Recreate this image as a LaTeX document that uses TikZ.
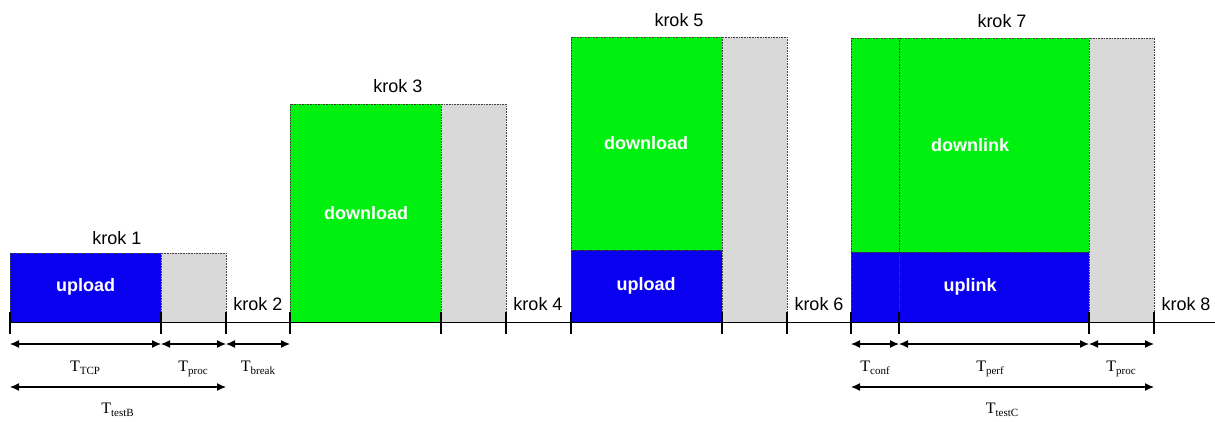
\documentclass[tikz,border=0pt]{standalone}
\usepackage{fontspec}
\setmainfont{Liberation Serif}
\setsansfont{Liberation Sans}
\usetikzlibrary{arrows.meta}
\definecolor{grn}{RGB}{0,240,16}
\definecolor{blu}{RGB}{10,0,240}
\definecolor{gry}{RGB}{217,217,217}
\newcommand{\Tlab}[1]{T\raisebox{-0.22em}{\fontsize{11}{12}\selectfont #1}}
\begin{document}
\begin{tikzpicture}[x=1pt,y=-1pt,
  box/.style={draw=black!75, dash pattern=on 0.8pt off 0.8pt, line width=0.6pt},
  krok/.style={font=\sffamily\fontsize{18}{20}\selectfont, inner sep=0},
  inlab/.style={font=\sffamily\bfseries\fontsize{18}{20}\selectfont, text=white, inner sep=0},
  tlab/.style={font=\fontsize{16}{18}\selectfont, inner sep=0, anchor=base},
  dim/.style={{Latex[length=9pt,width=8pt]}-{Latex[length=9pt,width=8pt]}, line width=1.2pt},
  tickline/.style={line width=1.4pt}]
\useasboundingbox (0,0) rectangle (1215,421);
% krok 1
\path[box, fill=blu] (10,253) rectangle (161,322.5);
\path[box, fill=gry] (161,253) rectangle (226,322.5);
% krok 3
\path[box, fill=grn] (290,104) rectangle (441,322.5);
\path[box, fill=gry] (441,104) rectangle (506,322.5);
% krok 5
\path[box, fill=grn] (571,37) rectangle (722,250);
\path[box, fill=blu] (571,250) rectangle (722,322.5);
\path[box, fill=gry] (722,37) rectangle (787,322.5);
% krok 7
\path[box, fill=grn] (851,38) rectangle (1089,252);
\path[box, fill=blu] (851,252) rectangle (1089,322.5);
\path[box] (899,38) -- (899,322.5);
\path[box, fill=gry] (1089,38) rectangle (1154,322.5);
% baseline and ticks
\draw[tickline] (10,322.5) -- (1215,322.5);
\foreach \x in {10,161,226,290,441,506,571,722,787,851,899,1089,1154}
  \draw[tickline] (\x,312) -- (\x,334);
% labels
\node[krok] (k1) at (117,238) {krok 1};
\node[krok] (k2) at (258,304) {krok 2};
\node[krok] (k3) at (398,86) {krok 3};
\node[krok] (k4) at (538,304) {krok 4};
\node[krok] (k5) at (679,20) {krok 5};
\node[krok] (k6) at (819,304) {krok 6};
\node[krok] (k7) at (1002,21) {krok 7};
\node[krok] (k8) at (1186,304) {krok 8};
\node[inlab] (u1) at (85.5,287) {upload};
\node[inlab] (d3) at (366,213) {download};
\node[inlab] (d5) at (646,143) {download};
\node[inlab] (u5) at (646,286) {upload};
\node[inlab] (d7) at (970,145) {downlink};
\node[inlab] (u7) at (970,287) {uplink};
% dimension coordinates
\coordinate (a0) at (10,344);  \coordinate (a1) at (161,344);
\coordinate (a2) at (226,344); \coordinate (a3) at (290,344);
\coordinate (b0) at (10,387);  \coordinate (b2) at (226,387);
\coordinate (c0) at (851,344); \coordinate (c1) at (899,344);
\coordinate (c2) at (1089,344); \coordinate (c3) at (1154,344);
\coordinate (e0) at (851,387); \coordinate (e3) at (1154,387);
\draw[dim] (a0) -- (a1);
\draw[dim] (a1) -- (a2);
\draw[dim] (a2) -- (a3);
\draw[dim] (b0) -- (b2);
\draw[dim] (c0) -- (c1);
\draw[dim] (c1) -- (c2);
\draw[dim] (c2) -- (c3);
\draw[dim] (e0) -- (e3);
\node[tlab] (ttcp) at (85,371) {\Tlab{TCP}};
\node[tlab] (tproc1) at (193,371) {\Tlab{proc}};
\node[tlab] (tbreak) at (258,371) {\Tlab{break}};
\node[tlab] (ttestb) at (117.5,413) {\Tlab{testB}};
\node[tlab] (tconf) at (875,371) {\Tlab{conf}};
\node[tlab] (tperf) at (990,371) {\Tlab{perf}};
\node[tlab] (tproc2) at (1121,371) {\Tlab{proc}};
\node[tlab] (ttestc) at (1002,413) {\Tlab{testC}};
\end{tikzpicture}
\end{document}
